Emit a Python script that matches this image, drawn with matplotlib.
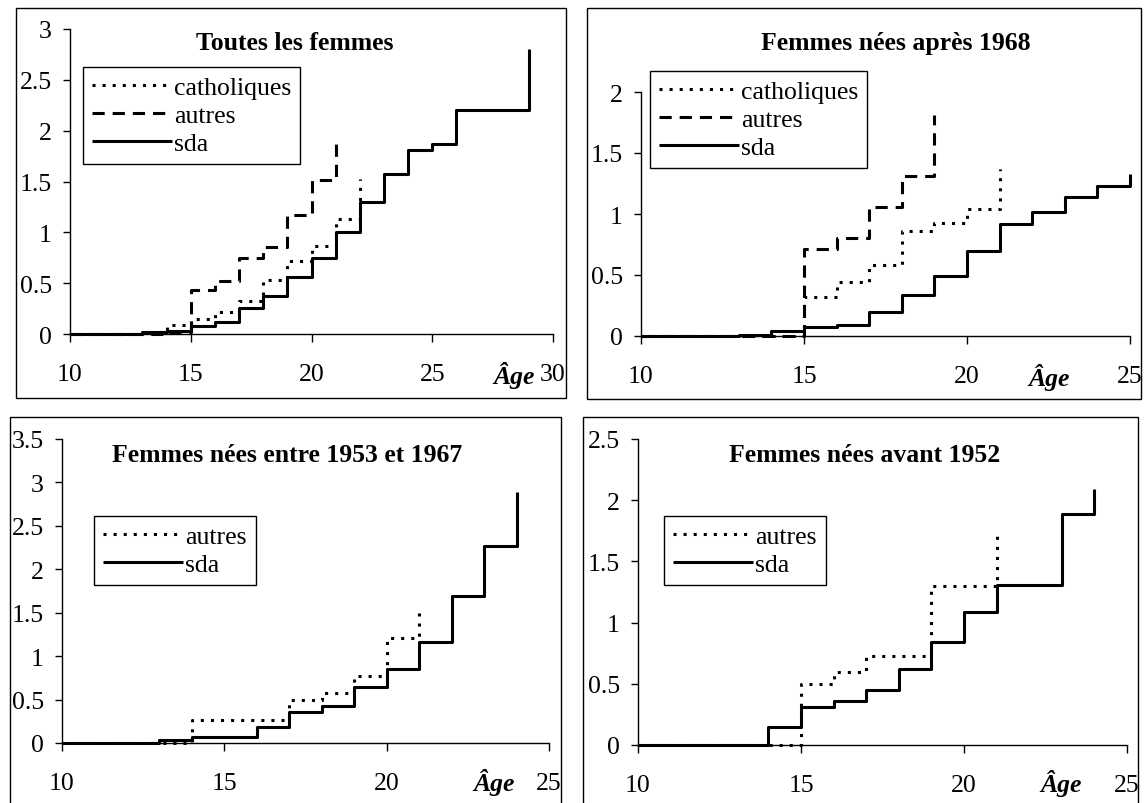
import matplotlib
matplotlib.use("Agg")
import matplotlib.pyplot as plt
from matplotlib.patches import Rectangle

plt.rcParams['font.family'] = ['Liberation Serif', 'DejaVu Serif']

W, H = 1145, 804

# --- data ---
# Toutes les femmes
tl_sda_age = [10, 11, 12, 13, 14, 15, 16, 17, 18, 19, 20, 21, 22, 23, 24, 25, 26, 27, 28, 29]
tl_sda = [0, 0, 0, 0.02, 0.03, 0.08, 0.12, 0.26, 0.37, 0.56, 0.75, 1.0, 1.3, 1.57, 1.81, 1.87, 2.2, 2.2, 2.2, 2.8]
tl_cath_age = [10, 11, 12, 13, 14, 15, 16, 17, 18, 19, 20, 21, 22]
tl_cath = [0, 0, 0, 0.02, 0.09, 0.15, 0.22, 0.32, 0.53, 0.72, 0.87, 1.13, 1.52]
tl_autres_age = [10, 11, 12, 13, 14, 15, 16, 17, 18, 19, 20, 21]
tl_autres = [0, 0, 0, 0, 0.02, 0.43, 0.52, 0.75, 0.86, 1.17, 1.51, 1.87]

# Femmes nées après 1968
tr_sda_age = [10, 11, 12, 13, 14, 15, 16, 17, 18, 19, 20, 21, 22, 23, 24, 25]
tr_sda = [0, 0, 0, 0.01, 0.04, 0.07, 0.09, 0.2, 0.34, 0.49, 0.7, 0.92, 1.02, 1.14, 1.23, 1.33]
tr_cath_age = [10, 11, 12, 13, 14, 15, 16, 17, 18, 19, 20, 21]
tr_cath = [0, 0, 0, 0, 0, 0.32, 0.44, 0.58, 0.86, 0.93, 1.04, 1.37]
tr_autres_age = [10, 11, 12, 13, 14, 15, 16, 17, 18, 19]
tr_autres = [0, 0, 0, 0, 0, 0.71, 0.8, 1.06, 1.31, 1.81]

# Femmes nées entre 1953 et 1967
bl_sda_age = [10, 11, 12, 13, 14, 15, 16, 17, 18, 19, 20, 21, 22, 23, 24]
bl_sda = [0, 0, 0, 0.04, 0.07, 0.07, 0.18, 0.36, 0.43, 0.65, 0.85, 1.16, 1.69, 2.27, 2.89]
bl_autres_age = [10, 11, 12, 13, 14, 15, 16, 17, 18, 19, 20, 21]
bl_autres = [0, 0, 0, 0, 0.26, 0.26, 0.26, 0.49, 0.58, 0.77, 1.21, 1.54]

# Femmes nées avant 1952
br_sda_age = [10, 11, 12, 13, 14, 15, 16, 17, 18, 19, 20, 21, 22, 23, 24]
br_sda = [0, 0, 0, 0, 0.15, 0.31, 0.36, 0.45, 0.62, 0.84, 1.09, 1.31, 1.31, 1.89, 2.09]
br_autres_age = [10, 11, 12, 13, 14, 15, 16, 17, 18, 19, 20, 21]
br_autres = [0, 0, 0, 0, 0, 0.5, 0.6, 0.73, 0.73, 1.3, 1.3, 1.72]

fig = plt.figure(figsize=(W / 100, H / 100), dpi=100)

DOT = (0, (1, 2.3))
DASH = (0, (4, 2.6))
LW = 2.2
FS = 18.5


def fx(x):
    return x / W


def fy(y):
    return 1 - y / H


def frame(x0, y0, x1, y1):
    fig.patches.append(Rectangle((fx(x0), fy(y1)), fx(x1) - fx(x0), fy(y0) - fy(y1),
                                 transform=fig.transFigure, fill=False,
                                 edgecolor='black', linewidth=1.0))


def panel(box, xmax, ymax, series, title, title_xy, leg_xy, age_xy):
    l, t, r, b = box
    ax = fig.add_axes([fx(l), fy(b), fx(r) - fx(l), fy(t) - fy(b)])
    for ages, vals, ls, lab in series:
        ax.plot(ages, vals, drawstyle='steps-post', color='black', linestyle=ls,
                linewidth=LW, label=lab, clip_on=False, solid_capstyle='butt')
    ax.set_xlim(10, xmax)
    ax.set_ylim(0, ymax)
    ax.set_xticks(list(range(10, xmax + 1, 5)))
    yt = [i * 0.5 for i in range(int(ymax / 0.5) + 1)]
    ax.set_yticks(yt)
    ax.set_yticklabels([f"{v:g}" for v in yt])
    for s in ['top', 'right']:
        ax.spines[s].set_visible(False)
    ax.spines['left'].set_linewidth(1.0)
    ax.spines['bottom'].set_linewidth(1.0)
    ax.patch.set_visible(False)
    ax.tick_params(axis='x', direction='out', length=6, width=1.0, pad=15, labelsize=FS)
    ax.tick_params(axis='y', direction='out', length=5, width=1.0, pad=8, labelsize=FS)
    fig.text(fx(title_xy[0]), fy(title_xy[1]), title, ha='center', va='baseline',
             fontsize=FS, fontweight='bold')
    fig.text(fx(age_xy[0]), fy(age_xy[1]), "Âge", ha='left', va='baseline',
             fontsize=FS, fontstyle='italic', fontweight='bold')
    leg = ax.legend(loc='upper left', bbox_to_anchor=(fx(leg_xy[0]), fy(leg_xy[1])),
                    bbox_transform=fig.transFigure, fontsize=FS, frameon=True,
                    fancybox=False, framealpha=1, edgecolor='black',
                    handlelength=3.1, handletextpad=0.1, labelspacing=0.2,
                    borderpad=0.35, borderaxespad=0)
    leg.get_frame().set_linewidth(1.0)
    return ax


frame(16, 9, 566, 399)
frame(587, 9, 1141, 400)
frame(10, 418, 561, 806)
frame(583, 418, 1138, 806)

panel((70, 30, 553, 335), 30, 3,
      [(tl_cath_age, tl_cath, DOT, 'catholiques'),
       (tl_autres_age, tl_autres, DASH, 'autres'),
       (tl_sda_age, tl_sda, '-', 'sda')],
      "Toutes les femmes", (295, 50), (83, 68), (493, 384))

panel((641, 93, 1130, 337), 25, 2,
      [(tr_cath_age, tr_cath, DOT, 'catholiques'),
       (tr_autres_age, tr_autres, DASH, 'autres'),
       (tr_sda_age, tr_sda, '-', 'sda')],
      "Femmes nées après 1968", (896, 50), (650, 72), (1028, 386))

panel((62, 440, 549, 744), 25, 3.5,
      [(bl_autres_age, bl_autres, DOT, 'autres'),
       (bl_sda_age, bl_sda, '-', 'sda')],
      "Femmes nées entre 1953 et 1967", (287, 462), (94, 517), (473, 791))

panel((638, 440, 1127, 746), 25, 2.5,
      [(br_autres_age, br_autres, DOT, 'autres'),
       (br_sda_age, br_sda, '-', 'sda')],
      "Femmes nées avant 1952", (865, 462), (664, 517), (1040, 792))

fig.savefig("out.png", dpi=100)
